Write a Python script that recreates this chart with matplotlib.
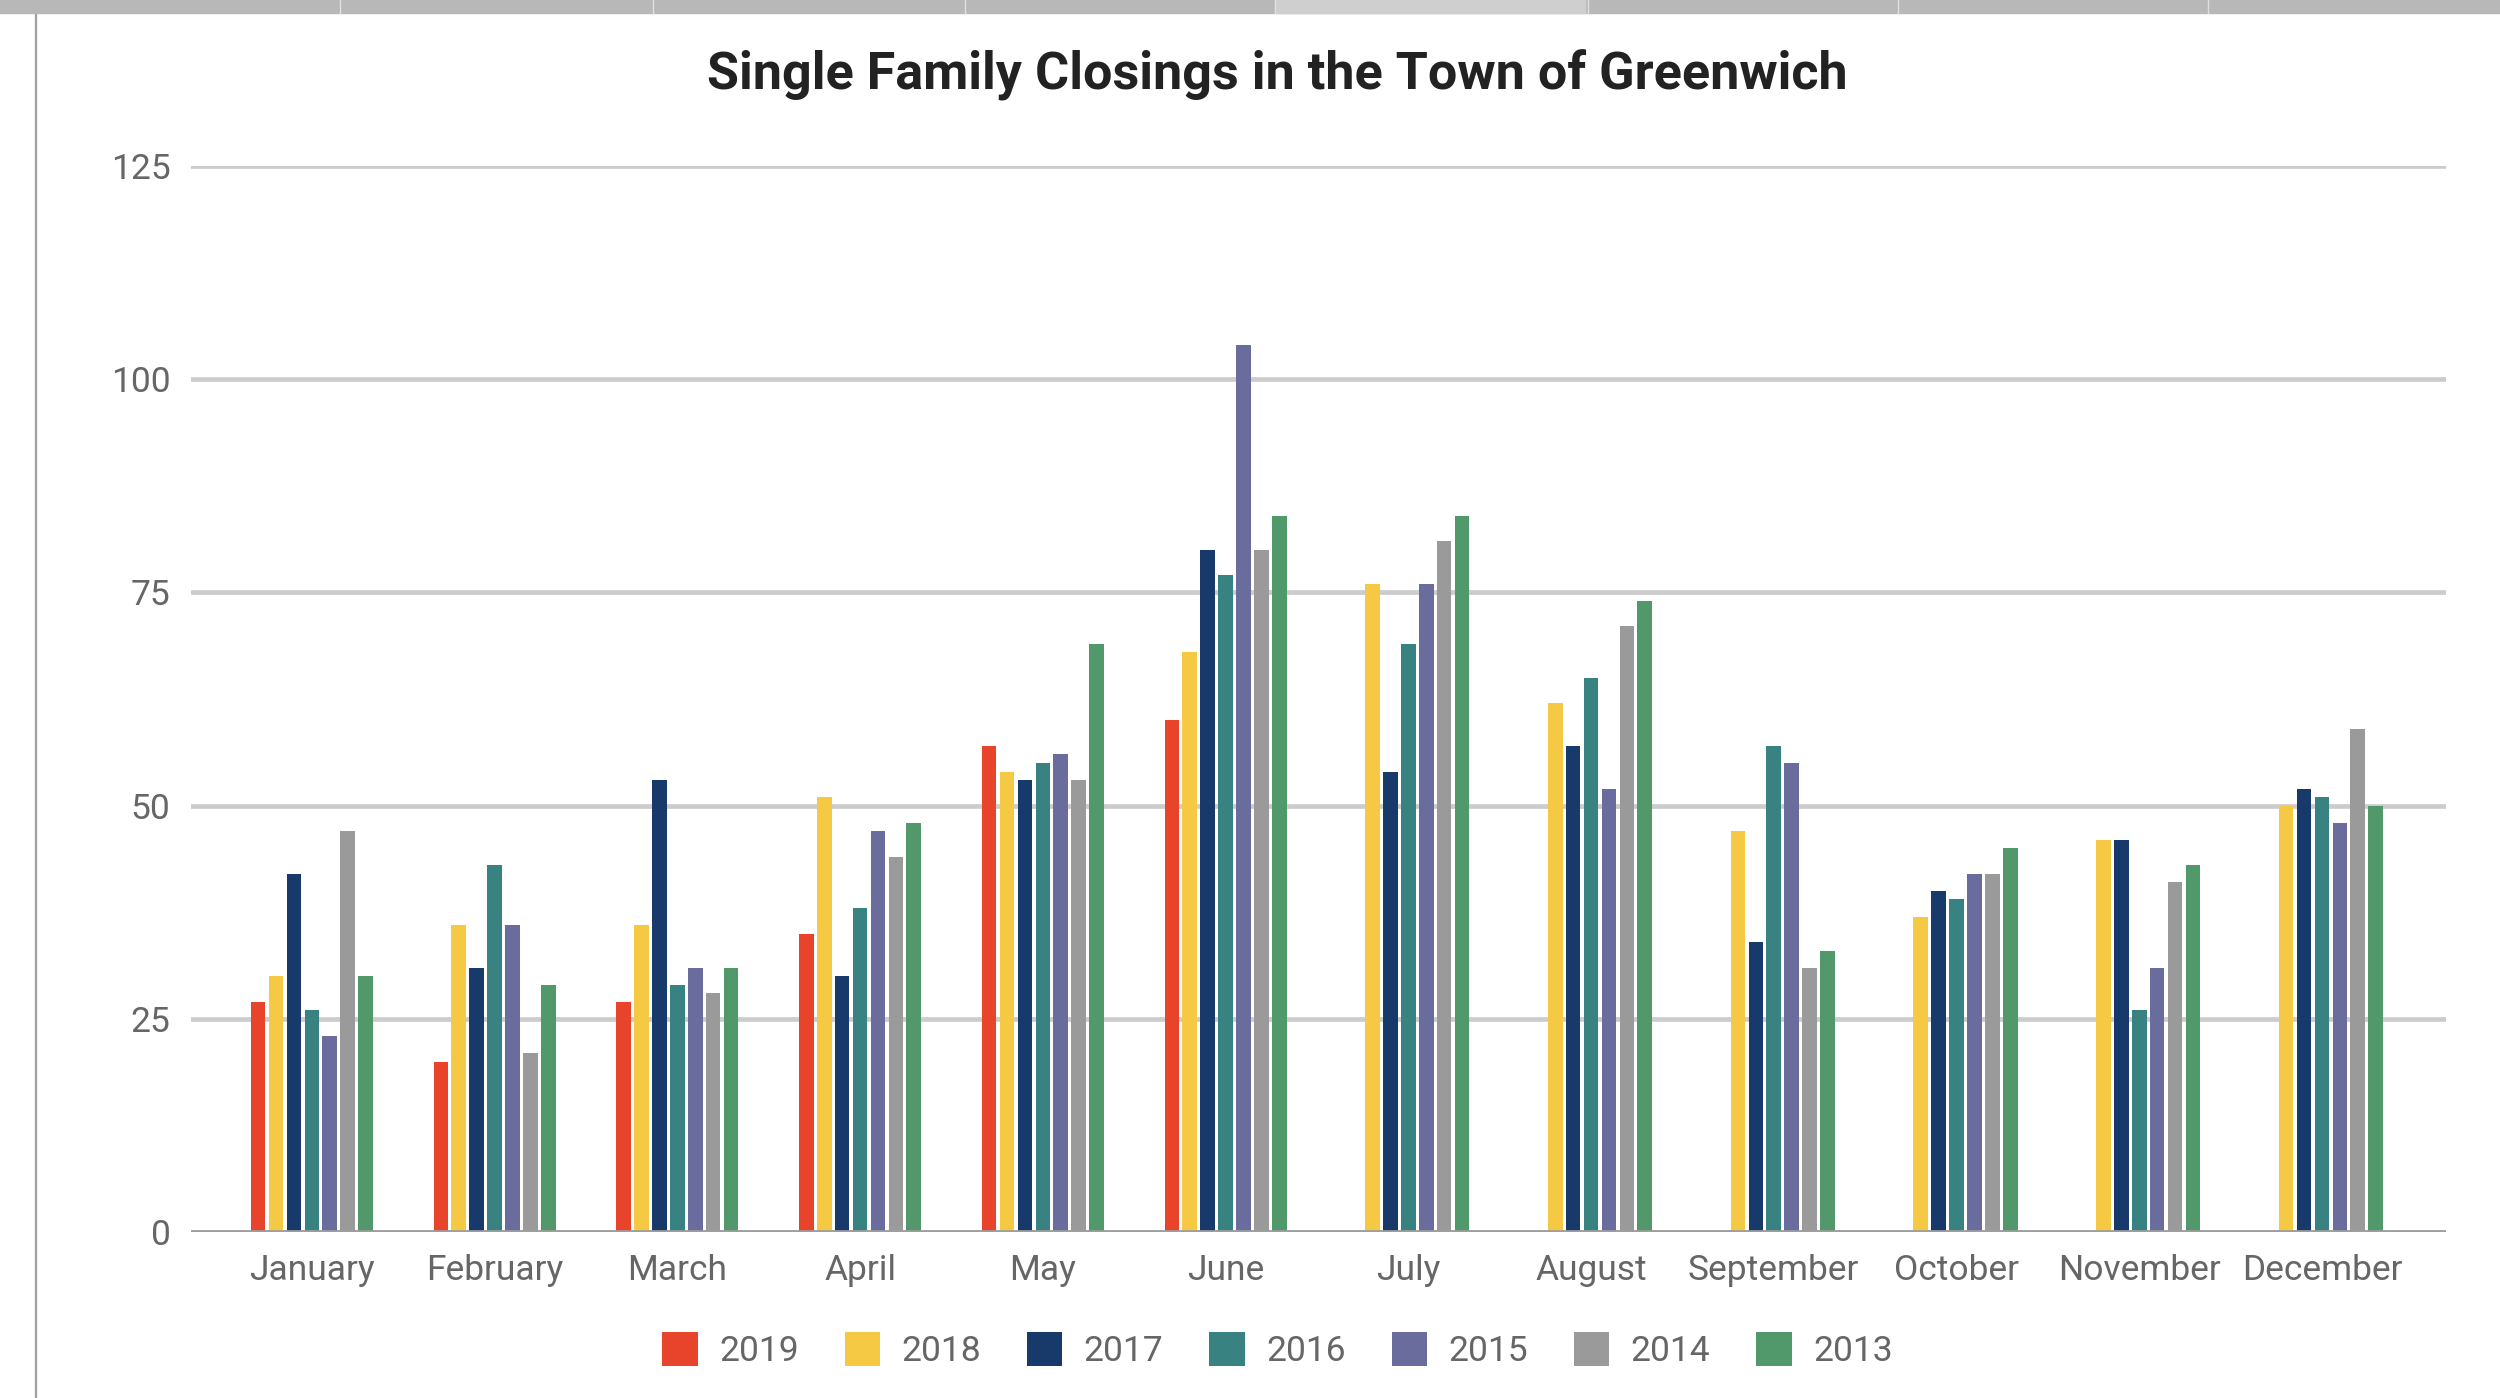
import numpy as np
import matplotlib.pyplot as plt
from matplotlib.patches import Rectangle

plt.rcParams['font.family'] = ['Roboto', 'DejaVu Sans']

months = ['January', 'February', 'March', 'April', 'May', 'June',
          'July', 'August', 'September', 'October', 'November', 'December']
years = ['2019', '2018', '2017', '2016', '2015', '2014', '2013']

# closings per month (2019 only through June)
y2019 = [27, 20, 27, 35, 57, 60, 0, 0, 0, 0, 0, 0]
y2018 = [30, 36, 36, 51, 54, 68, 76, 62, 47, 37, 46, 50]
y2017 = [42, 31, 53, 30, 53, 80, 54, 57, 34, 40, 46, 52]
y2016 = [26, 43, 29, 38, 55, 77, 69, 65, 57, 39, 26, 51]
y2015 = [23, 36, 31, 47, 56, 104, 76, 52, 55, 42, 31, 48]
y2014 = [47, 21, 28, 44, 53, 80, 81, 71, 31, 42, 41, 59]
y2013 = [30, 29, 31, 48, 69, 84, 84, 74, 33, 45, 43, 50]

series = [y2019, y2018, y2017, y2016, y2015, y2014, y2013]
colors = ['#E8432B', '#F6C944', '#173A6A', '#388281', '#6A6C9E', '#9A9A9A', '#51996A']

fig = plt.figure(figsize=(25, 13.98), dpi=100)
ax = fig.add_axes([0.0765, 0.1186, 0.902, 0.7628])

x = np.arange(len(months))
step = 0.098
width = 0.08
for i, (vals, c, yr) in enumerate(zip(series, colors, years)):
    ax.bar(x + (i - 3) * step, vals, width=width, color=c, label=yr, zorder=3)

ax.set_xlim(-0.66, 11.68)
ax.set_ylim(0, 125)
ax.set_yticks([0, 25, 50, 75, 100, 125])
ax.set_xticks(x)
ax.set_xticklabels(months)
ax.yaxis.grid(True, color='#cccccc', linewidth=3.4, zorder=0)
ax.axhline(0, color='#9e9e9e', linewidth=3.4, zorder=4)
for s in ax.spines.values():
    s.set_visible(False)
ax.tick_params(axis='both', length=0, labelsize=25.5, labelcolor='#666666')
ax.tick_params(axis='x', pad=16)
ax.tick_params(axis='y', pad=15)

fig.text(0.511, 0.946, 'Single Family Closings in the Town of Greenwich',
         ha='center', va='center', fontsize=37.5, fontweight='bold', color='#222222')

fig.legend(loc='center', bbox_to_anchor=(0.511, 0.034), ncol=7, frameon=False,
           fontsize=25.5, labelcolor='#666666', handlelength=1.0, handleheight=1.1,
           handletextpad=0.6, columnspacing=1.3)

# spreadsheet frame bits around the chart
fig.patches.append(Rectangle((0, 0.991), 1, 0.009, transform=fig.transFigure,
                             color='#b8b8b8', zorder=5))
fig.patches.append(Rectangle((0.510, 0.991), 0.124, 0.009, transform=fig.transFigure,
                             color='#cfcfcf', zorder=6))
for xd in [0.136, 0.261, 0.386, 0.510, 0.635, 0.759, 0.883]:
    fig.lines.append(plt.Line2D([xd, xd], [0.991, 1], transform=fig.transFigure,
                                color='#e0e0e0', linewidth=1, zorder=7))
fig.lines.append(plt.Line2D([0.0145, 0.0145], [0, 0.991], transform=fig.transFigure,
                            color='#a0a0a0', linewidth=1.6))

fig.savefig('out.png', dpi=100)
